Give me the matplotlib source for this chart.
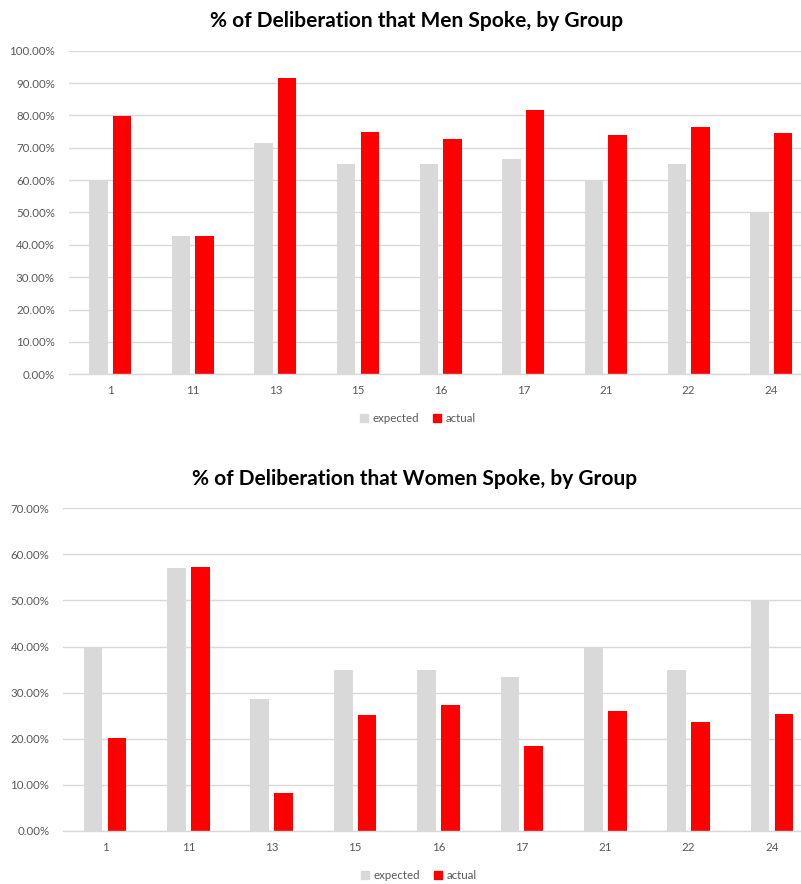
import numpy as np
import matplotlib
matplotlib.use("Agg")
import matplotlib.pyplot as plt
import matplotlib.ticker as ticker
from matplotlib.patches import Patch

groups = ["1", "11", "13", "15", "16", "17", "21", "22", "24"]

men_expected = [60.0, 42.86, 71.43, 65.0, 65.0, 66.67, 60.0, 65.0, 50.0]
men_actual = [79.8, 42.7, 91.6, 74.8, 72.6, 81.6, 74.0, 76.3, 74.6]

women_expected = [40.0, 57.14, 28.57, 35.0, 35.0, 33.33, 40.0, 35.0, 50.0]
women_actual = [20.1, 57.2, 8.3, 25.2, 27.4, 18.4, 26.0, 23.7, 25.4]

GRAY = "#d9d9d9"
RED = "#ff0000"
TEXT = "#595959"
FONT = "Lato"

plt.rcParams["font.family"] = [FONT, "DejaVu Sans"]

fig = plt.figure(figsize=(8.01, 8.84), dpi=100)
fig.patch.set_facecolor("white")

ax_top = fig.add_axes([0.0858, 0.5766, 0.9287, 0.3661])
ax_bot = fig.add_axes([0.0790, 0.0600, 0.9368, 0.3650])


def draw_panel(ax, expected, actual, ymax, title, legend_x):
    x = np.arange(len(groups))
    w = 0.225
    ax.bar(x - 0.143, np.array(expected) / 100, width=w, color=GRAY, zorder=3)
    ax.bar(x + 0.143, np.array(actual) / 100, width=w, color=RED, zorder=3)

    ax.set_xlim(-0.5, len(groups) - 0.5)
    ax.set_ylim(0, ymax)
    ax.yaxis.set_major_locator(ticker.MultipleLocator(0.1))
    ax.yaxis.set_major_formatter(ticker.FuncFormatter(lambda v, p: f"{v * 100:.2f}%"))
    ax.set_xticks(x)
    ax.set_xticklabels(groups)
    ax.tick_params(axis="both", length=0, colors=TEXT, labelsize=8.3)
    ax.tick_params(axis="x", pad=8)
    ax.tick_params(axis="y", pad=10)
    ax.grid(axis="y", color=GRAY, linewidth=1.0, zorder=0)
    for name, spine in ax.spines.items():
        spine.set_visible(name == "bottom")
    ax.spines["bottom"].set_color(GRAY)
    ax.spines["bottom"].set_linewidth(1.0)
    ax.spines["bottom"].set_zorder(4)

    ax.set_title(title, fontsize=15, fontweight="bold", color="black",
                 pad=17, x=0.468)

    handles = [Patch(color=GRAY, label="expected"), Patch(color=RED, label="actual")]
    ax.legend(handles=handles, loc="center", bbox_to_anchor=(legend_x, -0.138),
              ncol=2, frameon=False, fontsize=8.3, labelcolor=TEXT,
              handlelength=0.7, handleheight=0.7, handletextpad=0.4,
              columnspacing=1.2)


draw_panel(ax_top, men_expected, men_actual, 1.0,
           "% of Deliberation that Men Spoke, by Group", 0.4696)
draw_panel(ax_bot, women_expected, women_actual, 0.7,
           "% of Deliberation that Women Spoke, by Group", 0.474)

plt.savefig("out.png", dpi=100, facecolor=fig.get_facecolor())
